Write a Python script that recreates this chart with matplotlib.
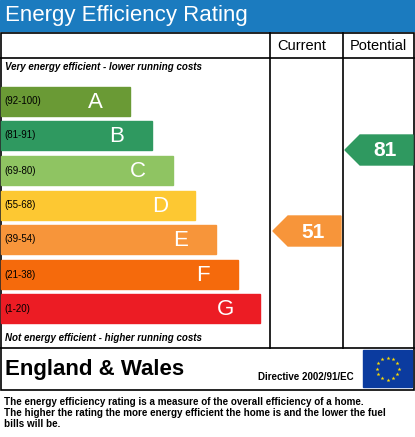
import matplotlib
matplotlib.use("Agg")
import matplotlib.pyplot as plt
from matplotlib.patches import Rectangle, Polygon
import numpy as np

letters = ["A", "B", "C", "D", "E", "F", "G"]
ranges = ["(92-100)", "(81-91)", "(69-80)", "(55-68)", "(39-54)", "(21-38)", "(1-20)"]
colors = ["#6a9a35", "#2f9960", "#8fc462", "#fdc832", "#f7953a", "#f56a0c", "#ec1c24"]
current = 51
potential = 81

def band_of(v):
    lows = [92, 81, 69, 55, 39, 21, 1]
    for i, lo in enumerate(lows):
        if v >= lo:
            return i
    return 6

fig = plt.figure(figsize=(4.15, 4.37), dpi=100)
ax = fig.add_axes([0, 0, 1, 1])
ax.set_xlim(0, 415); ax.set_ylim(437, 0); ax.axis("off")

ax.add_patch(Rectangle((0, 0), 415, 31, color="#1b7bbf"))
ax.text(5, 16, "Energy Efficiency Rating", color="white", fontsize=16, va="center", family="Liberation Sans")

lw = 1.2
ax.add_patch(Rectangle((0.5, 33), 413.5, 357, fill=False, ec="black", lw=lw))
ax.plot([270, 270], [33, 348], color="black", lw=lw)
ax.plot([343, 343], [33, 348], color="black", lw=lw)
ax.plot([0, 414], [58, 58], color="black", lw=lw)
ax.plot([0, 414], [348, 348], color="black", lw=lw)
ax.text(302, 46, "Current", fontsize=10.5, ha="center", va="center", family="Liberation Sans")
ax.text(378, 46, "Potential", fontsize=10.5, ha="center", va="center", family="Liberation Sans")
ax.text(5, 67, "Very energy efficient - lower running costs", fontsize=7, style="italic",
        weight="bold", va="center", family="Liberation Sans")
ax.text(5, 338, "Not energy efficient - higher running costs", fontsize=7, style="italic",
        weight="bold", va="center", family="Liberation Sans")

tops = [87, 121, 156, 191, 225, 260, 294]
rights = [130, 152, 173, 195, 216, 238, 260]
h = 29
for i in range(7):
    ax.add_patch(Rectangle((1, tops[i]), rights[i] - 1, h, color=colors[i]))
    ax.text(4, tops[i] + h / 2, ranges[i], fontsize=7, va="center", family="Liberation Sans")
    ax.text(rights[i] - 35, tops[i] + h / 2 + 1, letters[i], fontsize=16, color="white",
            ha="center", va="center", family="Liberation Sans")

def arrow(val, x0, x1, y0):
    b = band_of(val)
    y1 = y0 + 30
    ym = (y0 + y1) / 2
    pts = [(x0, ym), (x0 + 15, y0), (x1, y0), (x1, y1), (x0 + 15, y1)]
    ax.add_patch(Polygon(pts, closed=True, color=colors[b]))
    ax.text((x0 + x1) / 2 + 6, ym + 1, str(val), fontsize=15, weight="bold", color="white",
            ha="center", va="center", family="Liberation Sans")

arrow(current, 273, 341, 216)
arrow(potential, 345, 413, 135)

ax.text(5, 369, "England & Wales", fontsize=16, weight="bold", va="center", family="Liberation Sans")
ax.text(306, 377, "Directive 2002/91/EC", fontsize=7, weight="bold", ha="center", va="center",
        family="Liberation Sans")
ax.add_patch(Rectangle((363, 350), 49, 37, color="#0b3b9f"))
for k in range(12):
    a = 2 * np.pi * k / 12
    ax.plot(387.5 + 11 * np.cos(a), 368.5 + 11 * np.sin(a), marker="*", color="#ffdd00",
            markersize=3, mew=0)

ax.text(4, 413, "The energy efficiency rating is a measure of the overall efficiency of a home.\n"
        "The higher the rating the more energy efficient the home is and the lower the fuel\n"
        "bills will be.", fontsize=7.1, weight="bold", va="center", linespacing=1.15,
        family="Liberation Sans")

fig.savefig("out.png", dpi=100)
